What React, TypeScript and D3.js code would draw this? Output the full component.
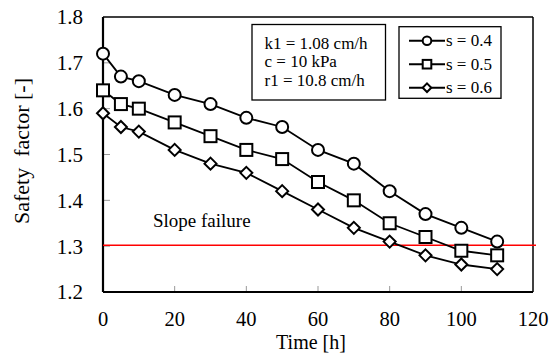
import React from 'react';
import * as d3 from 'd3';

// values
const times = [0, 5, 10, 20, 30, 40, 50, 60, 70, 80, 90, 100, 110];
const sf04 = [1.72, 1.67, 1.66, 1.63, 1.61, 1.58, 1.56, 1.51, 1.48, 1.42, 1.37, 1.34, 1.31];
const sf05 = [1.64, 1.61, 1.60, 1.57, 1.54, 1.51, 1.49, 1.44, 1.40, 1.35, 1.32, 1.29, 1.28];
const sf06 = [1.59, 1.56, 1.55, 1.51, 1.48, 1.46, 1.42, 1.38, 1.34, 1.31, 1.28, 1.26, 1.25];
const seriesLabels = ['s = 0.4', 's = 0.5', 's = 0.6'];
const seriesMarkers = ['circle', 'square', 'diamond'];
const xTicks = [0, 20, 40, 60, 80, 100, 120];
const yTicks = [1.2, 1.3, 1.4, 1.5, 1.6, 1.7, 1.8];
const failureLevel = 1.3;
const paramLines = ['k1 = 1.08 cm/h', 'c = 10 kPa', 'r1 = 10.8 cm/h'];

const W = 557;
const H = 353;
const margin = { top: 17, right: 24, bottom: 61, left: 103 };
const FONT = '"Liberation Serif", "Times New Roman", Times, serif';

function Marker({ kind, x, y, size }: { kind: string; x: number; y: number; size: number }) {
  const common = { fill: 'white', stroke: '#000', strokeWidth: 2 };
  if (kind === 'circle') return <circle cx={x} cy={y} r={size} {...common} />;
  if (kind === 'square')
    return <rect x={x - size} y={y - size} width={size * 2} height={size * 2} {...common} />;
  const d = `M${x},${y - size}L${x + size},${y}L${x},${y + size}L${x - size},${y}Z`;
  return <path d={d} {...common} />;
}

export default function App() {
  const iw = W - margin.left - margin.right;
  const ih = H - margin.top - margin.bottom;
  const x = d3.scaleLinear().domain([0, 120]).range([margin.left, margin.left + iw]);
  const y = d3.scaleLinear().domain([1.2, 1.8]).range([margin.top + ih, margin.top]);

  const series = [sf04, sf05, sf06];
  const line = d3
    .line<number>()
    .x((_, i) => x(times[i]))
    .y((d) => y(d));

  const x0 = margin.left;
  const x1 = margin.left + iw;
  const y0 = margin.top + ih;
  const y1 = margin.top;

  return (
    <div style={{ position: 'fixed', left: 0, top: 0 }}>
      <svg width={W} height={H} style={{ display: 'block', background: 'white' }} fontFamily={FONT}>
        {/* inward ticks */}
        {yTicks.slice(1, -1).map((t) => (
          <line key={'yt' + t} x1={x0} x2={x0 + 7} y1={y(t)} y2={y(t)} stroke="#999" strokeWidth={1} />
        ))}
        {xTicks.slice(1, -1).map((t) => (
          <line key={'xt' + t} x1={x(t)} x2={x(t)} y1={y0} y2={y0 - 6} stroke="#999" strokeWidth={1} />
        ))}

        {/* frame */}
        <line x1={x0} x2={x1} y1={y1} y2={y1} stroke="#000" strokeWidth={1.5} />
        <line x1={x1} x2={x1} y1={y1} y2={y0} stroke="#000" strokeWidth={1.5} />
        <line x1={x0} x2={x0} y1={y1} y2={y0} stroke="#000" strokeWidth={2.2} />
        <line x1={x0} x2={x1} y1={y0} y2={y0} stroke="#000" strokeWidth={2.2} />

        {/* tick labels */}
        {yTicks.map((t) => (
          <text key={'yl' + t} x={x0 - 20} y={y(t)} dy="0.35em" textAnchor="end" fontSize={21} fill="#000">
            {t.toFixed(1)}
          </text>
        ))}
        {xTicks.map((t) => (
          <text key={'xl' + t} x={x(t)} y={y0 + 34} textAnchor="middle" fontSize={20.5} fill="#000">
            {t}
          </text>
        ))}

        {/* axis titles */}
        <text x={311} y={349} textAnchor="middle" fontSize={20} fill="#000">
          Time [h]
        </text>
        <text
          transform={`translate(29,151) rotate(-90)`}
          textAnchor="middle"
          fontSize={22}
          fill="#000"
          style={{ whiteSpace: 'pre' }}
        >
          {'Safety  factor [-]'}
        </text>

        {/* slope failure threshold */}
        <line x1={x0} x2={x1 + 3} y1={y(failureLevel) - 1} y2={y(failureLevel) - 1} stroke="#ff0000" strokeWidth={1.5} />
        <text x={153} y={226.5} fontSize={19} fill="#000">
          Slope failure
        </text>

        {/* series */}
        {series.map((vals, si) => (
          <g key={'s' + si}>
            <path d={line(vals) || ''} fill="none" stroke="#000" strokeWidth={1.8} />
            {vals.map((v, i) => (
              <Marker key={i} kind={seriesMarkers[si]} x={x(times[i])} y={y(v)} size={6} />
            ))}
          </g>
        ))}

        {/* parameter box */}
        <rect x={252} y={24.5} width={133.5} height={75.5} fill="white" stroke="#000" strokeWidth={1.3} />
        {paramLines.map((t, i) => (
          <text key={t} x={264.5} y={48.5 + i * 18.7} fontSize={17} fill="#000">
            {t}
          </text>
        ))}

        {/* legend */}
        <rect x={399} y={26.7} width={102} height={71.6} fill="white" stroke="#000" strokeWidth={1.3} />
        {seriesLabels.map((lab, i) => {
          const ly = 40.7 + i * 23.5;
          return (
            <g key={lab}>
              <line x1={409} x2={445} y1={ly} y2={ly} stroke="#000" strokeWidth={2} />
              <Marker kind={seriesMarkers[i]} x={427} y={ly} size={4.3} />
              <text x={446} y={ly + 5.5} fontSize={17} fill="#000">
                {lab}
              </text>
            </g>
          );
        })}
      </svg>
    </div>
  );
}
